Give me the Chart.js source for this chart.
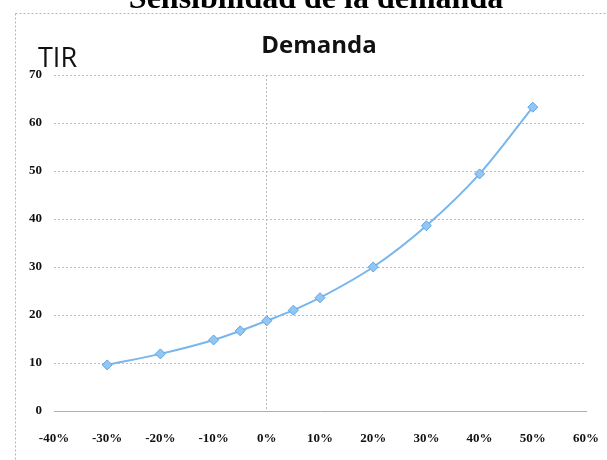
<!DOCTYPE html>
<html>
<head>
<meta charset="utf-8">
<script src="https://cdn.jsdelivr.net/npm/chart.js@4"></script>
<style>
  html, body { margin: 0; padding: 0; background: #fff; }
  #wrap { width: 607px; height: 460px; position: relative; }
</style>
</head>
<body>
<div id="wrap"><canvas id="c" width="607" height="460"></canvas></div>
<script>
// Variación de la demanda (%) y TIR resultante
const demandChange = [-30, -20, -10, -5, 0, 5, 10, 20, 30, 40, 50];
const tir = [9.6, 11.9, 14.8, 16.7, 18.8, 21.0, 23.6, 30.0, 38.6, 49.4, 63.3];

// Marcas de los ejes
const xTicks = [-40, -30, -20, -10, 0, 10, 20, 30, 40, 50, 60];
const yTicks = [0, 10, 20, 30, 40, 50, 60, 70];

const pageTitle = 'Sensibilidad de la demanda';
const chartTitle = 'Demanda';
const yAxisTitle = 'TIR';

const tickFont = { family: "'Liberation Serif', 'Times New Roman', serif", weight: 'bold', size: 13 };

// Marco punteado, encabezado de página y rótulos
const decorations = {
  id: 'decorations',
  beforeDraw(chart) {
    const ctx = chart.ctx;
    ctx.save();
    ctx.fillStyle = '#fff';
    ctx.fillRect(0, 0, chart.width, chart.height);
    ctx.strokeStyle = '#b4b4b4';
    ctx.lineWidth = 1;
    ctx.setLineDash([2, 2]);
    ctx.beginPath();
    ctx.moveTo(15.5, 13.5); ctx.lineTo(chart.width, 13.5);
    ctx.moveTo(15.5, 13.5); ctx.lineTo(15.5, chart.height);
    ctx.stroke();
    ctx.setLineDash([]);
    ctx.restore();
  },
  afterDraw(chart) {
    const ctx = chart.ctx;
    ctx.save();
    ctx.fillStyle = '#000';
    ctx.textAlign = 'center';
    ctx.textBaseline = 'alphabetic';
    ctx.font = "bold 32px 'Liberation Serif', 'Times New Roman', serif";
    ctx.fillText(pageTitle, 316, 8);
    ctx.fillStyle = '#111';
    ctx.font = "700 24px 'Open Sans', sans-serif";
    ctx.fillText(chartTitle, 319, 53);
    ctx.textAlign = 'left';
    ctx.font = "400 27px 'Open Sans', sans-serif";
    ctx.fillText(yAxisTitle, 38, 67);
    ctx.restore();
  }
};

new Chart(document.getElementById('c'), {
  type: 'scatter',
  data: {
    datasets: [{
      label: chartTitle,
      data: demandChange.map((x, i) => ({ x: x, y: tir[i] })),
      showLine: true,
      borderColor: '#78b6ee',
      borderWidth: 2,
      cubicInterpolationMode: 'monotone',
      pointStyle: 'rectRot',
      pointRadius: 5,
      pointBackgroundColor: '#93c6f2',
      pointBorderColor: '#5da6e6',
      pointBorderWidth: 1
    }]
  },
  options: {
    responsive: false,
    animation: false,
    devicePixelRatio: 1,
    layout: { padding: { top: 75, right: 21, left: 0, bottom: 9 } },
    plugins: {
      legend: { display: false },
      title: { display: false },
      tooltip: { enabled: false }
    },
    scales: {
      x: {
        type: 'linear',
        min: -40,
        max: 60,
        afterBuildTicks(scale) { scale.ticks = xTicks.map(v => ({ value: v })); },
        afterFit(scale) {
          scale.height = 40;
          scale.paddingLeft = 0;
          scale.paddingRight = 0;
        },
        ticks: {
          callback: v => v + '%',
          font: tickFont,
          color: '#111',
          padding: 20,
          maxRotation: 0,
          autoSkip: false
        },
        grid: {
          drawTicks: false,
          color: ctx => (ctx.tick && ctx.tick.value === 0) ? '#b8b8b8' : 'rgba(0,0,0,0)',
          borderDash: [2, 2]
        },
        border: { display: true, color: '#a9b0b8', width: 1, dash: [2, 2] }
      },
      y: {
        min: 0,
        max: 70,
        afterBuildTicks(scale) { scale.ticks = yTicks.map(v => ({ value: v })); },
        afterFit(scale) { scale.width = 54; },
        ticks: {
          font: tickFont,
          color: '#111',
          padding: 12
        },
        grid: {
          drawTicks: false,
          color: '#bdbdbd',
          borderDash: [2, 2]
        },
        border: { display: false, dash: [2, 2] }
      }
    }
  },
  plugins: [decorations]
});
</script>
</body>
</html>
